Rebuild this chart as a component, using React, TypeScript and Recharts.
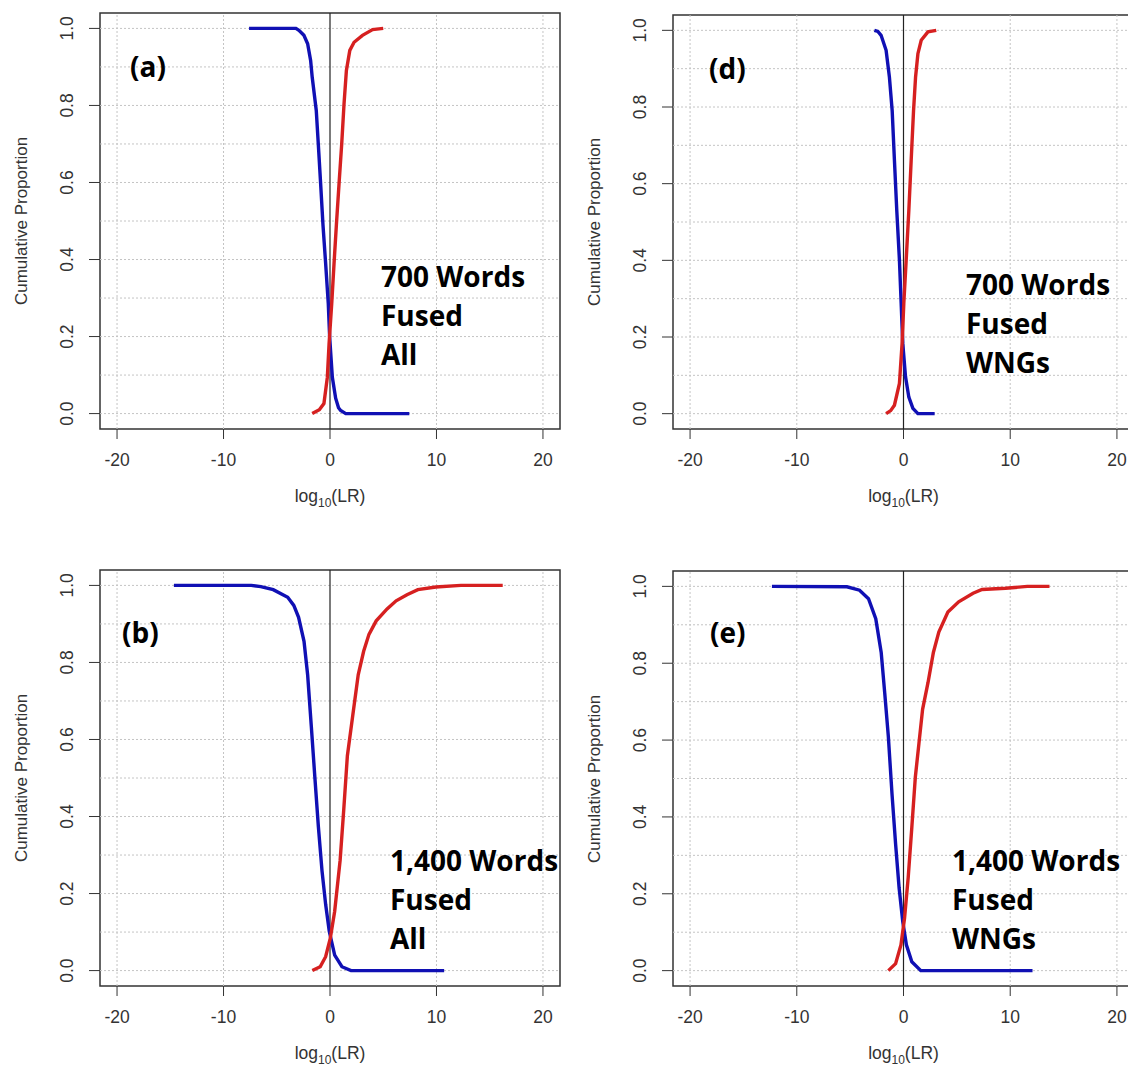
import React from "react";
import { LineChart, Line, XAxis, YAxis, ReferenceLine, ReferenceArea } from "recharts";

type Pt = [number, number];

// axes
const xTicks = [-20, -10, 0, 10, 20];
const yTicks = [0, 0.2, 0.4, 0.6, 0.8, 1.0];
const xGrid = [-20, -10, 10, 20];
const yGrid = [0, 0.1, 0.2, 0.3, 0.4, 0.5, 0.6, 0.7, 0.8, 0.9, 1.0];

// (a) 700 words, fused, all
const blueA: Pt[] = [
  [-7.6, 1], [-3.2, 1], [-2.92, 0.995], [-2.45, 0.982], [-2.1, 0.96], [-1.82, 0.917],
  [-1.67, 0.873], [-1.29, 0.787], [-1.1, 0.7], [-0.88, 0.597], [-0.66, 0.49], [-0.41, 0.39],
  [-0.16, 0.285], [-0.03, 0.198], [0.22, 0.094], [0.53, 0.04], [0.8, 0.015], [1.0, 0.008],
  [1.48, 0], [7.45, 0],
];
const redA: Pt[] = [
  [-1.67, 0], [-1.0, 0.01], [-0.57, 0.026], [-0.25, 0.094], [-0.09, 0.18], [0.16, 0.285],
  [0.38, 0.39], [0.6, 0.49], [0.85, 0.597], [1.1, 0.7], [1.32, 0.805], [1.54, 0.891],
  [1.86, 0.943], [2.26, 0.964], [3.05, 0.982], [4.0, 0.997], [5.0, 1],
];

// (d) 700 words, fused, WNGs
const blueD: Pt[] = [
  [-2.73, 1], [-2.4, 0.997], [-2.1, 0.987], [-1.63, 0.948], [-1.32, 0.878], [-1.06, 0.79],
  [-0.85, 0.661], [-0.63, 0.53], [-0.38, 0.4], [-0.22, 0.288], [-0.07, 0.184],
  [0.19, 0.096], [0.5, 0.043], [0.88, 0.014], [1.35, 0], [2.92, 0],
];
const redD: Pt[] = [
  [-1.63, 0], [-1.2, 0.008], [-0.85, 0.022], [-0.38, 0.079], [-0.13, 0.184], [0.03, 0.288],
  [0.25, 0.4], [0.5, 0.53], [0.72, 0.661], [0.94, 0.79], [1.13, 0.878], [1.35, 0.939],
  [1.66, 0.974], [2.29, 0.996], [3.07, 1],
];

// (b) 1,400 words, fused, all
const blueB: Pt[] = [
  [-14.66, 1], [-7.4, 1], [-6.5, 0.997], [-5.33, 0.989], [-3.97, 0.969], [-3.4, 0.948],
  [-2.95, 0.917], [-2.44, 0.855], [-2.1, 0.768], [-1.76, 0.636], [-1.43, 0.505],
  [-1.09, 0.373], [-0.75, 0.259], [-0.41, 0.172], [-0.07, 0.102], [0.44, 0.04],
  [1.12, 0.01], [1.97, 0], [10.72, 0],
];
const redB: Pt[] = [
  [-1.66, 0], [-0.92, 0.01], [-0.41, 0.036], [0.03, 0.084], [0.44, 0.154], [0.95, 0.286],
  [1.29, 0.417], [1.63, 0.557], [2.14, 0.663], [2.65, 0.768], [3.16, 0.829], [3.66, 0.873],
  [4.34, 0.908], [5.36, 0.939], [6.21, 0.96], [7.23, 0.976], [8.25, 0.989], [9.94, 0.996],
  [12.3, 1], [16.22, 1],
];

// (e) 1,400 words, fused, WNGs
const blueE: Pt[] = [
  [-12.33, 1], [-5.3, 0.999], [-4.12, 0.99], [-3.28, 0.968], [-2.6, 0.916], [-2.09, 0.828],
  [-1.76, 0.723], [-1.42, 0.609], [-1.08, 0.461], [-0.74, 0.329], [-0.41, 0.215],
  [-0.07, 0.128], [0.27, 0.067], [0.78, 0.023], [1.62, 0], [12.09, 0],
];
const redE: Pt[] = [
  [-1.42, 0], [-0.74, 0.018], [-0.24, 0.067], [0.1, 0.137], [0.44, 0.242], [0.78, 0.373],
  [1.11, 0.504], [1.45, 0.592], [1.79, 0.68], [2.3, 0.75], [2.8, 0.828], [3.31, 0.881],
  [4.16, 0.933], [5.17, 0.96], [6.52, 0.982], [7.36, 0.992], [9.56, 0.995], [11.6, 1],
  [13.68, 1],
];

const toRows = (pts: Pt[]) => pts.map(([x, y]) => ({ x, y }));

const AXIS_FONT = "'Liberation Sans', Arial, sans-serif";
const NOTE_FONT = "'Open Sans', 'Noto Sans', sans-serif";
const BLUE = "#1010b4";
const RED = "#d62020";
const GRID = "#c4c4c4";

interface PanelProps {
  tag: string;
  note: string[];
  blue: Pt[];
  red: Pt[];
  box: [number, number, number, number]; // left, top, right, bottom (page px)
  tagAt: [number, number];
  noteAt: [number, number];
}

const PAD_L = 100;
const PAD_T = 20;
const PAD_R = 4;
const PAD_B = 60;

function Panel({ tag, note, blue, red, box, tagAt, noteAt }: PanelProps) {
  const [bl, bt, br, bb] = box;
  const w = br - bl + PAD_L + PAD_R;
  const h = bb - bt + PAD_T + PAD_B;
  const plotBottom = h - PAD_B;

  const XTick = (p: any) => (
    <text
      x={p.x}
      y={plotBottom + 31}
      textAnchor="middle"
      dominantBaseline="central"
      fontSize={17.5}
      fill="#333"
      fontFamily={AXIS_FONT}
    >
      {p.payload.value}
    </text>
  );
  const YTick = (p: any) => {
    const cx = PAD_L - 33;
    return (
      <text
        x={cx}
        y={p.y}
        transform={`rotate(-90 ${cx} ${p.y})`}
        textAnchor="middle"
        dominantBaseline="central"
        fontSize={17.5}
        fill="#333"
        fontFamily={AXIS_FONT}
      >
        {Number(p.payload.value).toFixed(1)}
      </text>
    );
  };

  return (
    <>
      <div style={{ position: "absolute", left: bl - PAD_L, top: bt - PAD_T }}>
        <LineChart
          width={w}
          height={h}
          margin={{ top: PAD_T, right: PAD_R, bottom: 0, left: 0 }}
        >
          <XAxis
            type="number"
            dataKey="x"
            domain={[-21.6, 21.6]}
            ticks={xTicks}
            allowDataOverflow
            axisLine={false}
            tickSize={10}
            tickLine={{ stroke: "#333" }}
            tick={XTick}
            height={PAD_B}
          />
          <YAxis
            type="number"
            dataKey="y"
            domain={[-0.04, 1.04]}
            ticks={yTicks}
            allowDataOverflow
            axisLine={false}
            tickSize={11}
            tickLine={{ stroke: "#333" }}
            tick={YTick}
            width={PAD_L}
          />
          {yGrid.map((v) => (
            <ReferenceLine key={"y" + v} y={v} stroke={GRID} strokeDasharray="2 2" />
          ))}
          {xGrid.map((v) => (
            <ReferenceLine key={"x" + v} x={v} stroke={GRID} strokeDasharray="2 2" />
          ))}
          <ReferenceLine x={0} stroke="#222" strokeWidth={1.2} />
          <Line
            data={toRows(blue)}
            dataKey="y"
            type="linear"
            stroke={BLUE}
            strokeWidth={3.4}
            dot={false}
            isAnimationActive={false}
          />
          <Line
            data={toRows(red)}
            dataKey="y"
            type="linear"
            stroke={RED}
            strokeWidth={3.4}
            dot={false}
            isAnimationActive={false}
          />
          <ReferenceArea
            x1={-21.6}
            x2={21.6}
            y1={-0.04}
            y2={1.04}
            fill="none"
            fillOpacity={0}
            stroke="#333"
            strokeWidth={1.5}
          />
        </LineChart>
      </div>
      <div
        style={{
          position: "absolute",
          left: bl - 78,
          top: (bt + bb) / 2,
          transform: "translate(-50%, -50%) rotate(-90deg)",
          whiteSpace: "nowrap",
          fontFamily: AXIS_FONT,
          fontSize: 17,
          color: "#333",
        }}
      >
        Cumulative Proportion
      </div>
      <div
        style={{
          position: "absolute",
          left: (bl + Math.min(br, 1134)) / 2,
          top: bb + 69,
          transform: "translate(-50%, -50%)",
          whiteSpace: "nowrap",
          fontFamily: AXIS_FONT,
          fontSize: 17.5,
          color: "#333",
        }}
      >
        log<span style={{ fontSize: 12, verticalAlign: "-5px" }}>10</span>(LR)
      </div>
      <div
        style={{
          position: "absolute",
          left: tagAt[0],
          top: tagAt[1] - 20,
          fontFamily: NOTE_FONT,
          fontWeight: 700,
          fontSize: 28,
          lineHeight: "39px",
          color: "#000",
        }}
      >
        {tag}
      </div>
      <div
        style={{
          position: "absolute",
          left: noteAt[0],
          top: noteAt[1] - 20,
          fontFamily: NOTE_FONT,
          fontWeight: 700,
          fontSize: 28,
          lineHeight: "39px",
          color: "#000",
          whiteSpace: "nowrap",
        }}
      >
        {note.map((t) => (
          <div key={t}>{t}</div>
        ))}
      </div>
    </>
  );
}

export default function App() {
  return (
    <div
      style={{
        position: "absolute",
        left: 0,
        top: 0,
        width: 1128,
        height: 1068,
        overflow: "hidden",
        background: "#fff",
      }}
    >
      <Panel
        tag="(a)"
        note={["700 Words", "Fused", "All"]}
        blue={blueA}
        red={redA}
        box={[100, 13, 560, 429]}
        tagAt={[130, 67]}
        noteAt={[381, 277]}
      />
      <Panel
        tag="(d)"
        note={["700 Words", "Fused", "WNGs"]}
        blue={blueD}
        red={redD}
        box={[673, 15, 1134, 429]}
        tagAt={[709, 69]}
        noteAt={[966, 285]}
      />
      <Panel
        tag="(b)"
        note={["1,400 Words", "Fused", "All"]}
        blue={blueB}
        red={redB}
        box={[100, 570, 560, 986]}
        tagAt={[122, 633]}
        noteAt={[390, 861]}
      />
      <Panel
        tag="(e)"
        note={["1,400 Words", "Fused", "WNGs"]}
        blue={blueE}
        red={redE}
        box={[673, 571, 1134, 986]}
        tagAt={[710, 633]}
        noteAt={[952, 861]}
      />
    </div>
  );
}
